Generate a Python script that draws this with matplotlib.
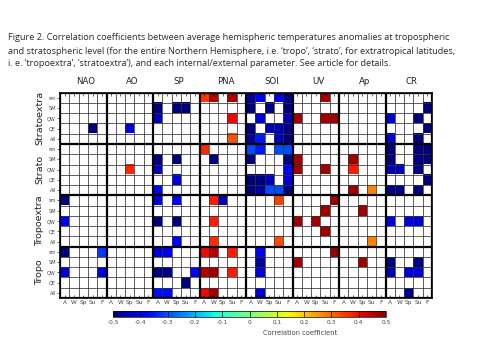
import matplotlib
matplotlib.use("Agg")
import matplotlib.pyplot as plt
import numpy as np

PARAMS = ["NAO", "AO", "SP", "PNA", "SOI", "UV", "Ap", "CR"]
SEASONS = ["A", "W", "Sp", "Su", "F"]
GROUPS = ["Stratoextra", "Strato", "Tropoextra", "Tropo"]
INDICES = ["sm", "SM", "QW", "QE", "All"]

CAPTION = [
    "Figure 2. Correlation coefficients between average hemispheric temperatures anomalies at tropospheric",
    "and stratospheric level (for the entire Northern Hemisphere, i.e. \u2018tropo\u2019, \u2018strato\u2019, for extratropical latitudes,",
    "i. e. \u2018tropoextra\u2019, \u2018stratoextra\u2019), and each internal/external parameter. See article for details.",
]

# (index, parameter, season, r) -- cells not listed are left blank
STRATOEXTRA = [
    ("sm", "PNA", "A", 0.35), ("sm", "PNA", "W", 0.45), ("sm", "PNA", "Su", 0.46),
    ("sm", "SOI", "A", -0.47), ("sm", "SOI", "W", -0.4), ("sm", "SOI", "Su", -0.4),
    ("sm", "SOI", "F", -0.5), ("sm", "UV", "Su", 0.47),
    ("SM", "SP", "A", -0.5), ("SM", "SP", "Sp", -0.5), ("SM", "SP", "Su", -0.5),
    ("SM", "SOI", "A", -0.5), ("SM", "SOI", "Sp", -0.5), ("SM", "SOI", "F", -0.5),
    ("SM", "CR", "F", -0.5),
    ("QW", "SP", "A", -0.45), ("QW", "PNA", "Su", 0.4), ("QW", "SOI", "W", -0.42),
    ("QW", "SOI", "F", -0.45), ("QW", "UV", "A", 0.47), ("QW", "UV", "Su", 0.47),
    ("QW", "UV", "F", 0.47), ("QW", "CR", "A", -0.42), ("QW", "CR", "Su", -0.5),
    ("QE", "NAO", "Su", -0.5), ("QE", "AO", "Sp", -0.42), ("QE", "SOI", "A", -0.5),
    ("QE", "SOI", "Sp", -0.45), ("QE", "SOI", "Su", -0.45), ("QE", "SOI", "F", -0.5),
    ("QE", "CR", "F", -0.5),
    ("All", "PNA", "Su", 0.32), ("All", "SOI", "A", -0.47), ("All", "SOI", "W", -0.35),
    ("All", "SOI", "Su", -0.45), ("All", "SOI", "F", -0.5), ("All", "CR", "A", -0.42),
    ("All", "CR", "Su", -0.5),
]

STRATO = [
    ("sm", "PNA", "A", 0.37), ("sm", "SOI", "A", -0.3), ("sm", "SOI", "W", -0.35),
    ("sm", "SOI", "Su", -0.3), ("sm", "SOI", "F", -0.3), ("sm", "CR", "A", -0.5),
    ("sm", "CR", "Su", -0.5), ("sm", "CR", "F", -0.5),
    ("SM", "SP", "A", -0.5), ("SM", "SP", "Sp", -0.5), ("SM", "PNA", "W", -0.5),
    ("SM", "SOI", "A", -0.5), ("SM", "SOI", "F", -0.5), ("SM", "UV", "A", 0.47),
    ("SM", "Ap", "W", 0.47), ("SM", "CR", "A", -0.5), ("SM", "CR", "Su", -0.5),
    ("SM", "CR", "F", -0.5),
    ("QW", "AO", "Sp", 0.37), ("QW", "SP", "A", -0.45), ("QW", "SOI", "F", -0.4),
    ("QW", "UV", "A", 0.47), ("QW", "UV", "Su", 0.47), ("QW", "Ap", "W", 0.38),
    ("QW", "CR", "A", -0.45), ("QW", "CR", "W", -0.45), ("QW", "CR", "Su", -0.5),
    ("QE", "SP", "Sp", -0.42), ("QE", "SOI", "A", -0.5), ("QE", "SOI", "W", -0.5),
    ("QE", "SOI", "Sp", -0.45), ("QE", "SOI", "F", -0.42), ("QE", "CR", "F", -0.5),
    ("All", "SP", "A", -0.4), ("All", "SOI", "A", -0.5), ("All", "SOI", "W", -0.47),
    ("All", "SOI", "Sp", -0.3), ("All", "SOI", "Su", -0.3), ("All", "SOI", "F", -0.5),
    ("All", "Ap", "W", 0.47), ("All", "Ap", "Su", 0.27), ("All", "CR", "A", -0.5),
    ("All", "CR", "W", -0.5), ("All", "CR", "Su", -0.5),
]

TROPOEXTRA = [
    ("sm", "NAO", "A", -0.5), ("sm", "SP", "A", -0.42), ("sm", "SP", "Sp", -0.38),
    ("sm", "PNA", "W", 0.38), ("sm", "PNA", "Sp", -0.45), ("sm", "SOI", "Su", 0.34),
    ("sm", "UV", "F", 0.47),
    ("SM", "UV", "Su", 0.47), ("SM", "Ap", "Sp", 0.47),
    ("QW", "NAO", "A", -0.4), ("QW", "SP", "A", -0.5), ("QW", "SP", "Sp", -0.5),
    ("QW", "PNA", "W", 0.38), ("QW", "UV", "A", 0.47), ("QW", "UV", "Sp", 0.47),
    ("QW", "CR", "A", -0.42), ("QW", "CR", "Sp", -0.42), ("QW", "CR", "Su", -0.42),
    ("QE", "UV", "Su", 0.47),
    ("All", "SP", "Sp", -0.38), ("All", "PNA", "W", 0.36), ("All", "SOI", "Su", 0.33),
    ("All", "Ap", "Su", 0.27),
]

TROPO = [
    ("sm", "NAO", "A", -0.5), ("sm", "NAO", "F", -0.32), ("sm", "SP", "A", -0.42),
    ("sm", "SP", "W", -0.4), ("sm", "PNA", "A", 0.4), ("sm", "PNA", "W", 0.45),
    ("sm", "PNA", "Su", 0.38), ("sm", "SOI", "W", -0.38), ("sm", "UV", "F", 0.47),
    ("SM", "SOI", "W", -0.47), ("SM", "UV", "A", 0.47), ("SM", "Ap", "Sp", 0.47),
    ("SM", "CR", "A", -0.5), ("SM", "CR", "Su", -0.5),
    ("QW", "NAO", "A", -0.42), ("QW", "NAO", "F", -0.42), ("QW", "SP", "A", -0.5),
    ("QW", "SP", "W", -0.5), ("QW", "SP", "F", -0.38), ("QW", "PNA", "A", 0.45),
    ("QW", "PNA", "W", 0.47), ("QW", "PNA", "Su", 0.38), ("QW", "SOI", "W", -0.42),
    ("QW", "CR", "A", -0.45), ("QW", "CR", "Sp", -0.42), ("QW", "CR", "Su", -0.42),
    ("QE", "SP", "Su", -0.5),
    ("All", "SP", "A", -0.36), ("All", "SP", "W", -0.36), ("All", "PNA", "A", 0.4),
    ("All", "PNA", "W", 0.47), ("All", "SOI", "W", -0.42), ("All", "CR", "Sp", -0.48),
]

CBAR_TICKS = [-0.5, -0.4, -0.3, -0.2, -0.1, 0, 0.1, 0.2, 0.3, 0.4, 0.5]


def build_matrix() -> np.ndarray:
    n_rows = len(GROUPS) * len(INDICES)
    n_cols = len(PARAMS) * len(SEASONS)
    data = np.full((n_rows, n_cols), np.nan)
    for g, cells in enumerate([STRATOEXTRA, STRATO, TROPOEXTRA, TROPO]):
        for idx, par, sea, r in cells:
            row = g * len(INDICES) + INDICES.index(idx)
            col = PARAMS.index(par) * len(SEASONS) + SEASONS.index(sea)
            data[row, col] = r
    return data


def main() -> None:
    data = build_matrix()
    n_rows, n_cols = data.shape

    fig = plt.figure(figsize=(4.8, 3.6), dpi=100)
    fig.patch.set_facecolor("white")

    for i, line in enumerate(CAPTION):
        fig.text(8 / 480, 1 - (38 + 13 * i) / 360, line, fontsize=6.6,
                 family="Open Sans", color="#2a2a2a", va="center", ha="left")

    ax = fig.add_axes([60 / 480, 1 - 298 / 360, 372 / 480, 205.3 / 360])
    cmap = plt.get_cmap("jet").copy()
    cmap.set_bad("white")
    im = ax.imshow(np.ma.masked_invalid(data), cmap=cmap, vmin=-0.5, vmax=0.5,
                   aspect="auto", interpolation="nearest",
                   extent=(0, n_cols, n_rows, 0))

    for x in range(n_cols + 1):
        if x % len(SEASONS) == 0:
            ax.axvline(x, color="k", lw=1.6, zorder=3)
        else:
            ax.axvline(x, color="0.2", lw=0.55, zorder=2)
    for y in range(n_rows + 1):
        if y % len(INDICES) == 0:
            ax.axhline(y, color="k", lw=1.6, zorder=3)
        else:
            ax.axhline(y, color="0.2", lw=0.55, zorder=2)

    ax.set_xlim(0, n_cols)
    ax.set_ylim(n_rows, 0)
    ax.set_xticks(np.arange(n_cols) + 0.5)
    ax.set_xticklabels(SEASONS * len(PARAMS), fontsize=4.2, color="#444444")
    ax.set_yticks(np.arange(n_rows) + 0.5)
    ax.set_yticklabels(INDICES * len(GROUPS), fontsize=3.6, color="#444444")
    ax.tick_params(axis="x", direction="in", top=True, length=2, width=0.4, pad=1.5)
    ax.tick_params(axis="y", direction="out", right=False, length=2, width=0.4, pad=1)
    for spine in ax.spines.values():
        spine.set_linewidth(1.2)

    for p, name in enumerate(PARAMS):
        ax.text(p * len(SEASONS) + 2.8, -0.7, name, ha="center", va="bottom",
                fontsize=6.2, color="#222222")
    for g, name in enumerate(GROUPS):
        ax.text(-2.15, g * len(INDICES) + 2.5, name, rotation=90, ha="center",
                va="center", fontsize=6.8, color="#222222")

    cax = fig.add_axes([113 / 480, 1 - 317 / 360, 273 / 480, 6 / 360])
    cbar = fig.colorbar(im, cax=cax, orientation="horizontal", ticks=CBAR_TICKS)
    cbar.ax.set_xticklabels([f"{t:g}" for t in CBAR_TICKS], fontsize=4.2, color="#444444")
    cbar.ax.tick_params(length=0, pad=2)
    cbar.outline.set_linewidth(0.5)
    for t in CBAR_TICKS:
        cax.axvline(t, color="k", lw=0.5)

    fig.text(300 / 480, 1 - 333 / 360, "Correlation coefficient", ha="center",
             va="center", fontsize=4.8, color="#444444")

    fig.savefig("out.png", dpi=100)
    plt.close(fig)


if __name__ == "__main__":
    main()
